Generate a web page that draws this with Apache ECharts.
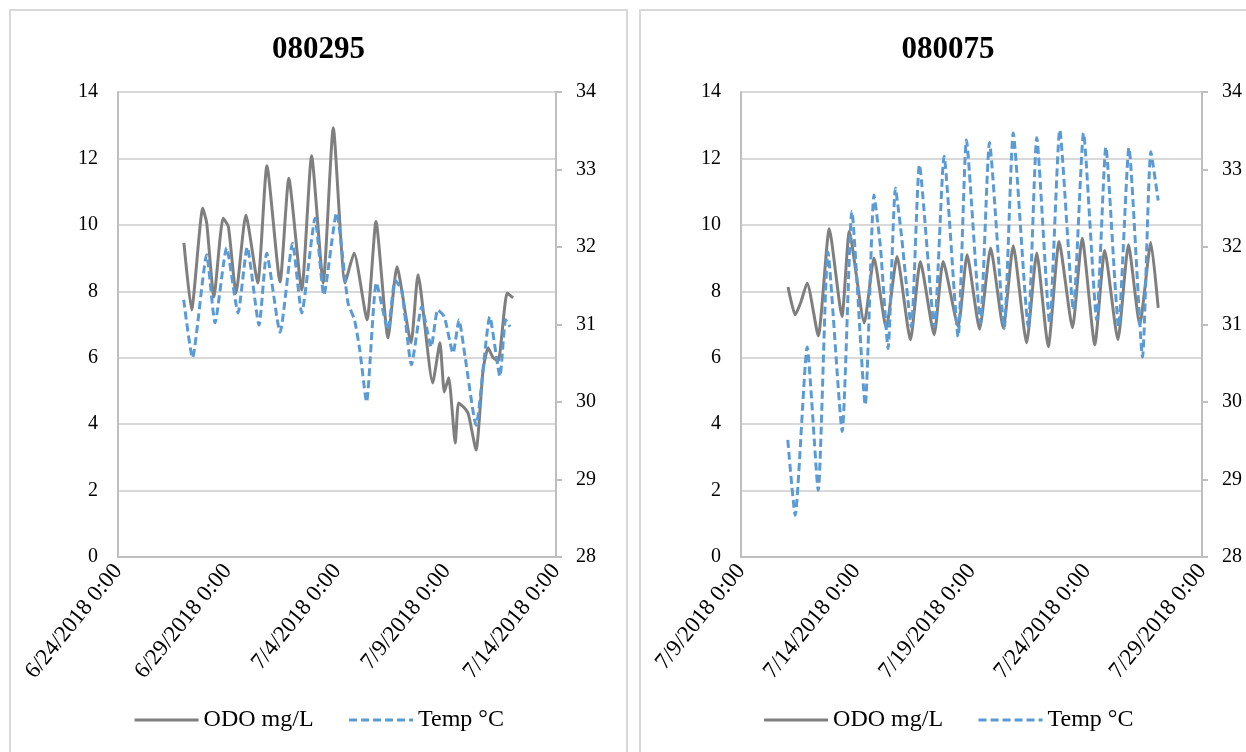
<!DOCTYPE html>
<html>
<head>
<meta charset="utf-8">
<script src="https://cdn.jsdelivr.net/npm/echarts@6.0.0/dist/echarts.min.js"></script>
<style>
body { margin: 0; background: #fff; overflow: hidden; }
.panel { position: absolute; top: 9px; height: 780px; border: 2px solid #d9d9d9; }
#left { left: 9px; width: 615px; }
#right { left: 639px; width: 614px; }
</style>
</head>
<body>
<div class="panel" id="left"></div>
<div class="panel" id="right"></div>
<script>
// x values are days after the first axis date of each panel
var xTicksA = ['6/24/2018 0:00', '6/29/2018 0:00', '7/4/2018 0:00', '7/9/2018 0:00', '7/14/2018 0:00'];
var xTicksB = ['7/9/2018 0:00', '7/14/2018 0:00', '7/19/2018 0:00', '7/24/2018 0:00', '7/29/2018 0:00'];
var odoTicks = [0, 2, 4, 6, 8, 10, 12, 14];
var tempTicks = [28, 29, 30, 31, 32, 33, 34];

// 080295
var odo295 = [
  [3.01, 9.46], [3.36, 7.44], [3.87, 10.5], [4.05, 10.06], [4.38, 7.83], [4.8, 10.2], [5.04, 9.95],
  [5.39, 7.95], [5.84, 10.3], [6.38, 8.25], [6.8, 11.78], [7.4, 8.28], [7.8, 11.4], [8.39, 8.04],
  [8.84, 12.08], [9.37, 8.25], [9.83, 12.92], [10.37, 8.25], [10.78, 9.15], [11.37, 7.14],
  [11.78, 10.1], [12.33, 6.6], [12.74, 8.74], [13.38, 6.45], [13.7, 8.5], [14.37, 5.24],
  [14.7, 6.45], [14.9, 4.97], [15.1, 5.4], [15.4, 3.43], [15.55, 4.64], [15.8, 4.5], [16.0, 4.3],
  [16.35, 3.22], [16.67, 5.63], [16.9, 6.3], [17.13, 6.0], [17.36, 5.9], [17.77, 7.95], [18.04, 7.8]
];
var temp295 = [
  [3.0, 31.32], [3.4, 30.57], [4.05, 31.9], [4.43, 31.02], [4.96, 31.99], [5.48, 31.15], [5.9, 32.0],
  [6.44, 30.99], [6.79, 31.92], [7.4, 30.9], [7.97, 32.05], [8.39, 31.15], [9.0, 32.37], [9.4, 31.38],
  [9.98, 32.44], [10.5, 31.28], [10.8, 31.06], [11.04, 30.67], [11.35, 30.0], [11.8, 31.54],
  [12.33, 30.93], [12.65, 31.57], [12.95, 31.45], [13.4, 30.48], [13.87, 31.23], [14.3, 30.71],
  [14.6, 31.19], [14.9, 31.1], [15.3, 30.63], [15.57, 31.06], [15.85, 30.58], [16.35, 29.7],
  [16.98, 31.1], [17.44, 30.33], [17.7, 31.06], [17.9, 30.97]
];

// 080075
var odo075 = [
  [2.04, 8.13], [2.35, 7.29], [2.6, 7.68], [2.87, 8.25], [3.35, 6.66], [3.83, 9.88], [4.38, 7.24],
  [4.7, 9.8], [5.35, 7.05], [5.77, 9.0], [6.3, 6.9], [6.77, 9.05], [7.35, 6.54], [7.78, 8.9],
  [8.38, 6.69], [8.77, 8.9], [9.42, 6.94], [9.81, 9.1], [10.35, 6.86], [10.83, 9.3], [11.38, 6.9],
  [11.81, 9.37], [12.39, 6.45], [12.83, 9.15], [13.33, 6.33], [13.8, 9.5], [14.38, 6.9], [14.8, 9.6],
  [15.35, 6.39], [15.78, 9.23], [16.35, 6.54], [16.81, 9.4], [17.3, 6.99], [17.78, 9.47], [18.1, 7.5]
];
var temp075 = [
  [2.03, 29.51], [2.35, 28.54], [2.87, 30.71], [3.35, 28.86], [3.77, 31.94], [4.39, 29.62],
  [4.81, 32.46], [5.39, 29.96], [5.77, 32.67], [6.05, 32.0], [6.38, 30.69], [6.7, 32.76],
  [6.95, 32.18], [7.39, 30.97], [7.74, 33.06], [8.39, 30.97], [8.81, 33.17], [9.42, 30.84],
  [9.78, 33.38], [10.39, 31.02], [10.78, 33.35], [11.42, 30.95], [11.81, 33.47], [12.46, 30.97],
  [12.83, 33.41], [13.39, 31.02], [13.83, 33.51], [14.42, 31.19], [14.86, 33.47], [15.43, 31.06],
  [15.83, 33.29], [16.38, 30.97], [16.83, 33.28], [17.42, 30.58], [17.78, 33.23], [18.1, 32.6]
];

var font = '"Liberation Serif", "Times New Roman", serif';
var axisGray = '#bfbfbf';

function makeOption(title, ticks, odo, temp, gridLeft, gridWidth) {
  return {
    animation: false,
    title: {
      text: title, left: 'center', top: 18,
      textStyle: { fontFamily: font, fontSize: 31, fontWeight: 'bold', color: '#000' }
    },
    legend: {
      top: 692, left: 'center', itemWidth: 64, itemHeight: 14, itemGap: 34,
      itemStyle: { opacity: 0 },
      lineStyle: { width: 3 },
      textStyle: { fontFamily: font, fontSize: 24, color: '#000' },
      data: ['ODO mg/L', 'Temp °C']
    },
    grid: { left: gridLeft, top: 81, width: gridWidth, height: 465, outerBoundsMode: 'none' },
    xAxis: {
      type: 'value', min: 0, max: 20, interval: 5,
      axisLine: { show: true, lineStyle: { color: axisGray, width: 2 } },
      axisTick: { show: false },
      splitLine: { show: false },
      axisLabel: {
        rotate: 51, margin: 10, fontFamily: font, fontSize: 23, color: '#000',
        formatter: function (v) { return ticks[Math.round(v / 5)]; }
      }
    },
    yAxis: [{
      type: 'value', min: odoTicks[0], max: odoTicks[odoTicks.length - 1], interval: 2,
      axisLine: { show: true, lineStyle: { color: axisGray, width: 2 } },
      axisTick: { show: false },
      splitLine: { lineStyle: { color: '#d9d9d9', width: 2 } },
      axisLabel: { margin: 20, fontFamily: font, fontSize: 20, color: '#000' }
    }, {
      type: 'value', min: tempTicks[0], max: tempTicks[tempTicks.length - 1], interval: 1,
      axisLine: { show: true, lineStyle: { color: axisGray, width: 2 } },
      axisTick: { show: true, inside: false, length: 6, lineStyle: { color: axisGray, width: 2 } },
      splitLine: { show: false },
      axisLabel: { margin: 20, fontFamily: font, fontSize: 20, color: '#000' }
    }],
    series: [{
      name: 'ODO mg/L', type: 'line', yAxisIndex: 0, data: odo,
      symbol: 'none', smooth: 0.18,
      itemStyle: { color: '#7f7f7f' },
      lineStyle: { color: '#7f7f7f', width: 3 }
    }, {
      name: 'Temp °C', type: 'line', yAxisIndex: 1, data: temp,
      symbol: 'none', smooth: 0.18,
      itemStyle: { color: '#5b9bd5' },
      lineStyle: { color: '#5b9bd5', width: 3, type: [8, 4] }
    }]
  };
}

var chartA = echarts.init(document.getElementById('left'));
chartA.setOption(makeOption('080295', xTicksA, odo295, temp295, 107, 438));
var chartB = echarts.init(document.getElementById('right'));
chartB.setOption(makeOption('080075', xTicksB, odo075, temp075, 100, 461));
</script>
</body>
</html>
